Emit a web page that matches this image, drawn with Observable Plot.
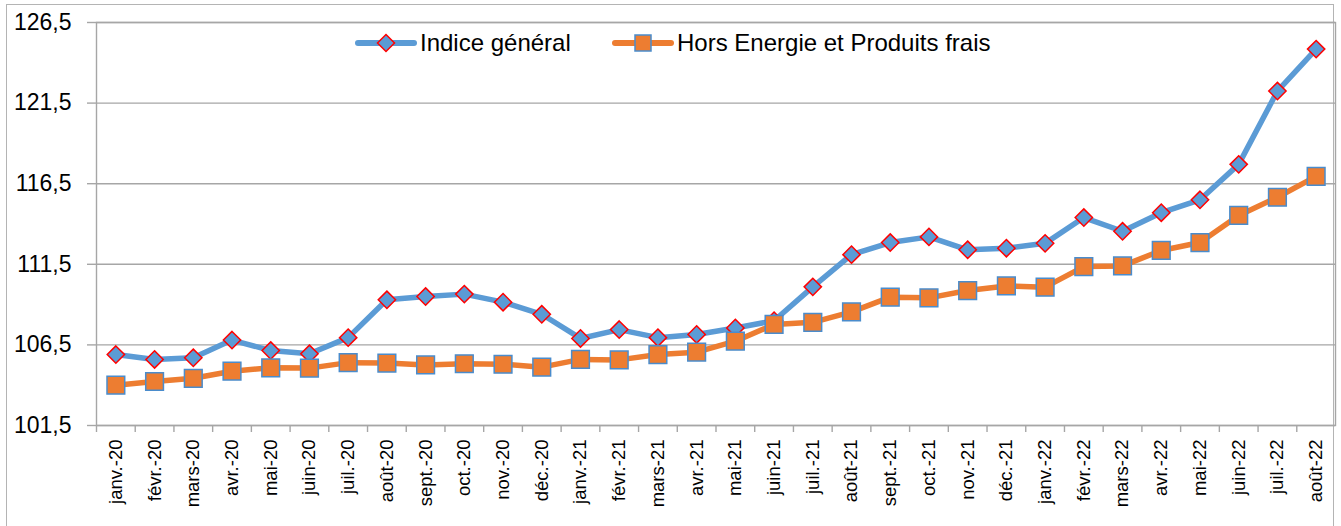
<!DOCTYPE html>
<html>
<head>
<meta charset="utf-8">
<script src="https://cdn.jsdelivr.net/npm/d3@7"></script>
<script src="https://cdn.jsdelivr.net/npm/@observablehq/plot@0.6"></script>
<style>
  html, body { margin: 0; padding: 0; overflow: hidden; background: #fff; width: 1341px; height: 526px; }
  #wrap { position: relative; width: 1341px; height: 526px; }
  #chart { position: absolute; left: 0; top: 0; }
  #border { position: absolute; left: 6px; top: 4px; width: 1328px; height: 600px; border: 1px solid #b4b4b4; box-sizing: border-box; }
  .legend { position: absolute; top: 27px; height: 32px; display: flex; align-items: center; font-family: "Liberation Sans", Arial, sans-serif; font-size: 24px; color: #000; white-space: nowrap; }
  .legend svg { margin-right: 3px; }
</style>
</head>
<body>
<div id="wrap">
  <div id="border"></div>
  <div id="chart"></div>
  <div class="legend" id="leg1" style="left:355px;"></div>
  <div class="legend" id="leg2" style="left:612px;"></div>
</div>
<script>
const months = [
  "janv.-20","févr.-20","mars-20","avr.-20","mai-20","juin-20","juil.-20","août-20","sept.-20","oct.-20","nov.-20","déc.-20",
  "janv.-21","févr.-21","mars-21","avr.-21","mai-21","juin-21","juil.-21","août-21","sept.-21","oct.-21","nov.-21","déc.-21",
  "janv.-22","févr.-22","mars-22","avr.-22","mai-22","juin-22","juil.-22","août-22"
];
const indiceGeneral = [
  105.9,105.6,105.7,106.8,106.15,105.95,106.95,109.3,109.5,109.65,109.15,108.4,
  106.9,107.45,106.95,107.15,107.55,108.0,110.1,112.1,112.85,113.2,112.4,112.5,
  112.8,114.4,113.55,114.7,115.5,117.7,122.25,124.85
];
const horsEnergie = [
  104.0,104.23,104.43,104.87,105.08,105.06,105.4,105.37,105.26,105.33,105.3,105.12,
  105.6,105.57,105.9,106.05,106.73,107.77,107.9,108.55,109.46,109.42,109.87,110.16,
  110.08,111.36,111.4,112.36,112.85,114.53,115.66,116.95
];
const yTicks = [101.5, 106.5, 111.5, 116.5, 121.5, 126.5];
const seriesNames = ["Indice général", "Hors Energie et Produits frais"];

const BLUE = "#5B9BD5", RED = "#FF0000", ORANGE = "#ED7D31", SQ_STROKE = "#4a8ccc", GRID = "#a6a6a6";
const W = 1341, H = 526, ML = 96, MR = 6, MT = 22, MB = 101;
const step = (W - ML - MR) / months.length;

const data = months.map((m, i) => ({month: m, indice: indiceGeneral[i], hors: horsEnergie[i]}));
const fmt = d => d.toFixed(1).replace(".", ",");

const plot = Plot.plot({
  width: W, height: H,
  marginLeft: ML, marginRight: MR, marginTop: MT, marginBottom: MB,
  style: {fontFamily: "'Liberation Sans', Arial, sans-serif", color: "#000", background: "transparent"},
  x: {type: "point", domain: months, padding: 0.5, round: false, axis: null},
  y: {domain: [yTicks[0], yTicks[yTicks.length - 1]], axis: null},
  marks: [
    Plot.gridY(yTicks, {stroke: GRID, strokeOpacity: 1, strokeWidth: 1.4}),
    Plot.frame({stroke: GRID, strokeWidth: 1.4}),
    Plot.axisY(yTicks, {tickSize: 9, tickPadding: 16, tickFormat: fmt, fontSize: 23, stroke: GRID, strokeWidth: 1.4, fill: "#000", label: null}),
    Plot.axisX(months, {tickSize: 7, fill: "none", stroke: GRID, strokeWidth: 1.4, dx: -step / 2, label: null}),
    Plot.axisX(months, {tickSize: 0, tickPadding: 14, tickRotate: -90, fontSize: 18.5, fill: "#000", label: null}),
    Plot.line(data, {x: "month", y: "indice", stroke: BLUE, strokeWidth: 5.5, strokeLinejoin: "round", strokeLinecap: "round"}),
    Plot.dot(data, {x: "month", y: "indice", symbol: "diamond2", r: 7.8, fill: BLUE, stroke: RED, strokeWidth: 1.5}),
    Plot.line(data, {x: "month", y: "hors", stroke: ORANGE, strokeWidth: 5.5, strokeLinejoin: "round", strokeLinecap: "round"}),
    Plot.dot(data, {x: "month", y: "hors", symbol: "square", r: 10, fill: ORANGE, stroke: SQ_STROKE, strokeWidth: 1.5})
  ]
});
document.getElementById("chart").appendChild(plot);

document.getElementById("leg1").innerHTML =
  `<svg width="62" height="24" viewBox="0 0 62 24"><line x1="3" y1="12" x2="59" y2="12" stroke="${BLUE}" stroke-width="6" stroke-linecap="round"/>` +
  `<path d="M31,3.5 L39.5,12 L31,20.5 L22.5,12 Z" fill="${BLUE}" stroke="${RED}" stroke-width="1.5"/></svg>` +
  `<span>${seriesNames[0]}</span>`;
document.getElementById("leg2").innerHTML =
  `<svg width="62" height="24" viewBox="0 0 62 24"><line x1="3" y1="12" x2="59" y2="12" stroke="${ORANGE}" stroke-width="6" stroke-linecap="round"/>` +
  `<rect x="23" y="4" width="16" height="16" fill="${ORANGE}" stroke="${SQ_STROKE}" stroke-width="1.5"/></svg>` +
  `<span>${seriesNames[1]}</span>`;
</script>
</body>
</html>
